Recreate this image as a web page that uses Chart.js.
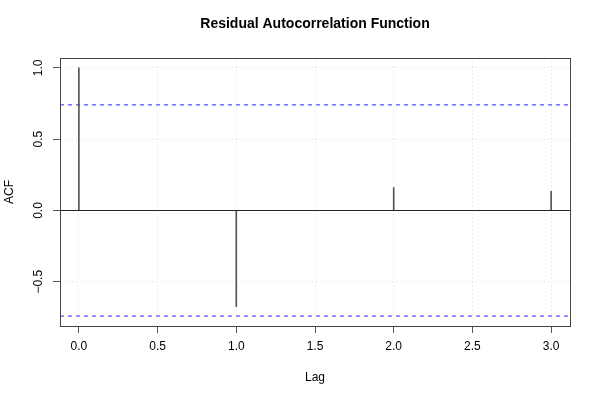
<!DOCTYPE html>
<html>
<head>
<meta charset="utf-8">
<script src="https://cdn.jsdelivr.net/npm/chart.js@4/dist/chart.umd.min.js"></script>
<style>
html, body { margin: 0; padding: 0; background: #ffffff; }
#wrap { width: 600px; height: 400px; }
</style>
</head>
<body>
<div id="wrap"><canvas id="c" width="600" height="400"></canvas></div>
<script>
// data
var lags = [0, 1, 2, 3];
var acfValues = [1.0, -0.674, 0.16, 0.135];
var ciBound = 0.7408;   // 1.96 / sqrt(7)
var xTicks = [0, 0.5, 1, 1.5, 2, 2.5, 3];
var yTicks = [-0.5, 0, 0.5, 1];
var xLimits = [-0.12, 3.12];
var yLimits = [-0.8104, 1.0696];

var fontName = '"Liberation Sans", Arial, Helvetica, sans-serif';

function fmt(v) { return v.toFixed(1).replace('-', '\u2212'); }

function hline(v) {
    return {
        type: 'line',
        data: [{x: xLimits[0], y: v}, {x: xLimits[1], y: v}],
        borderColor: 'rgb(40,40,255)',
        borderWidth: 1,
        borderDash: [4, 4],
        pointRadius: 0,
        fill: false
    };
}

var rPlot = {
    id: 'rPlot',
    afterDraw: function(chart)
    {
        var g = chart.ctx;
        var a = chart.chartArea;
        var ys = chart.scales.y;
        g.save();

        // zero line
        g.strokeStyle = '#222222';
        g.lineWidth = 1;
        var y0 = Math.round(ys.getPixelForValue(0)) + 0.5;
        g.beginPath();
        g.moveTo(a.left, y0);
        g.lineTo(a.right, y0);
        g.stroke();

        // box
        g.strokeStyle = '#444444';
        g.strokeRect(Math.round(a.left) + 0.5, Math.round(a.top) + 0.5,
                     Math.round(a.right - a.left), Math.round(a.bottom - a.top));

        // y tick labels, rotated like R (las = 0)
        g.fillStyle = '#000000';
        g.font = '12px ' + fontName;
        g.textAlign = 'center';
        g.textBaseline = 'alphabetic';
        yTicks.forEach(function(v) {
            var y = ys.getPixelForValue(v);
            g.save();
            g.translate(42, y);
            g.rotate(-Math.PI / 2);
            g.fillText(fmt(v), 0, 0);
            g.restore();
        });

        // axis titles
        var cx = (a.left + a.right) / 2;
        var cy = (a.top + a.bottom) / 2;
        g.textBaseline = 'middle';
        g.fillText('Lag', cx, 378);
        g.save();
        g.translate(10, cy);
        g.rotate(-Math.PI / 2);
        g.fillText('ACF', 0, 0);
        g.restore();

        // main title
        g.font = 'bold 14px ' + fontName;
        g.fillText('Residual Autocorrelation Function', cx, 24);

        g.restore();
    }
};

var ctx = document.getElementById('c').getContext('2d');

var myChart = new Chart(ctx, {
    type: 'bar',
    data: {
        datasets: [
            {
                label: 'ACF',
                data: lags.map(function(l, i) { return {x: l, y: acfValues[i]}; }),
                backgroundColor: '#555555',
                borderWidth: 0,
                barThickness: 1
            },
            hline(ciBound),
            hline(-ciBound)
        ]
    },
    options: {
        responsive: false,
        animation: false,
        devicePixelRatio: 1,
        layout: { padding: { left: 0, top: 58, right: 30, bottom: 0 } },
        plugins: {
            legend: { display: false },
            title: { display: false },
            tooltip: { enabled: false }
        },
        scales: {
            x: {
                type: 'linear',
                offset: false,
                min: xLimits[0],
                max: xLimits[1],
                afterBuildTicks: function(scale) {
                    scale.ticks = xTicks.map(function(v) { return {value: v}; });
                },
                afterFit: function(scale) { scale.height = 74; },
                ticks: {
                    color: '#000000',
                    font: { size: 12, family: fontName },
                    padding: 6,
                    maxRotation: 0,
                    callback: function(v) { return fmt(v); }
                },
                grid: {
                    offset: false,
                    color: '#dddddd',
                    tickColor: '#555555',
                    tickLength: 7,
                    tickBorderDash: [],
                    drawTicks: true
                },
                border: { display: false, dash: [1, 3] }
            },
            y: {
                type: 'linear',
                min: yLimits[0],
                max: yLimits[1],
                afterBuildTicks: function(scale) {
                    scale.ticks = yTicks.map(function(v) { return {value: v}; });
                },
                afterFit: function(scale) { scale.width = 60; },
                ticks: {
                    display: false
                },
                grid: {
                    color: '#dddddd',
                    tickColor: '#555555',
                    tickLength: 7,
                    tickBorderDash: [],
                    drawTicks: true
                },
                border: { display: false, dash: [1, 3] }
            }
        }
    },
    plugins: [rPlot]
});
</script>
</body>
</html>
